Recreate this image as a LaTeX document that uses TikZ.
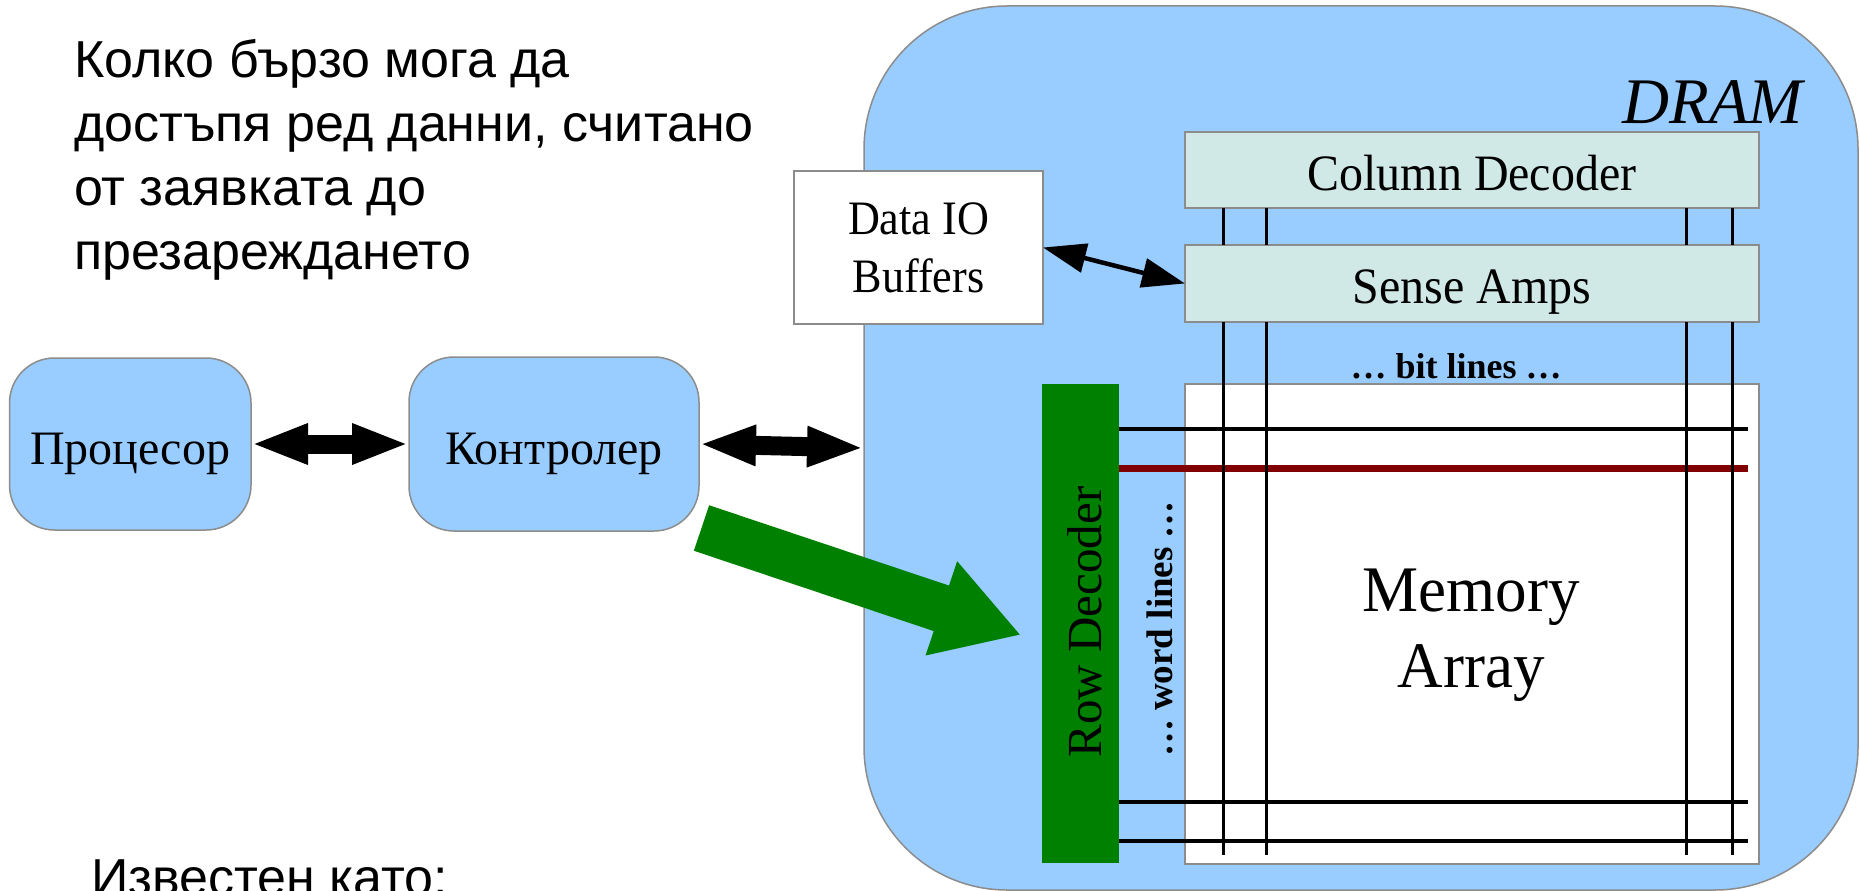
\documentclass[tikz,border=0pt]{standalone}
\usepackage{fontspec}
\usepackage{graphicx}
\setmainfont{Liberation Serif}
\newfontfamily\sansfont{Liberation Sans}
\usetikzlibrary{arrows.meta}
\definecolor{dramblue}{HTML}{99CCFF}
\definecolor{ampteal}{HTML}{D0E8E6}
\definecolor{decgreen}{HTML}{008000}
\definecolor{wordred}{HTML}{800000}
\definecolor{edgegray}{HTML}{8C8C8C}
\begin{document}
\begin{tikzpicture}[x=1pt,y=-1pt,
  box/.style={rectangle, draw=edgegray, line width=1.5pt, inner sep=0pt, outer sep=0pt},
  bluebox/.style={box, fill=dramblue, rounded corners=45pt, text height=50pt, text depth=10pt,
                  font=\fontsize{48}{55}\selectfont},
  whitebox/.style={box, fill=white},
  ampbox/.style={box, fill=ampteal},
  lbl/.style={inner sep=0pt, outer sep=0pt},
  para/.style={lbl, align=left, font=\sansfont\fontsize{52}{64}\selectfont},
  fatarrow/.style={line width=19pt, {Triangle[length=57pt,width=37pt]}-{Triangle[length=57pt,width=37pt]}},
  thinarrow/.style={line width=4.5pt, {Triangle[length=43pt,width=29pt]}-{Triangle[length=43pt,width=29pt]}},
  bitline/.style={line width=3pt, black},
  wordline/.style={line width=4pt, black},
]
\useasboundingbox (0,0) rectangle (1860,891);

% question text
\node[para, anchor=north west] (question) at (74,39)
  {Колко бързо мога да\\достъпя ред данни, считано\\от заявката до\\презареждането};
\node[para, anchor=base west] (known) at (91,895) {Известен като:};

% DRAM body
\node[box, fill=dramblue, rounded corners=143pt, minimum width=994pt, minimum height=884pt] (dram) at (1361,448) {};
\node[lbl, anchor=base east, font=\itshape\fontsize{65}{75}\selectfont] (dramlabel) at (1803,123) {DRAM};

% processor and controller
\node[bluebox, minimum width=241.5pt, minimum height=172pt] (cpu) at (130.25,444) {Процесор};
\node[bluebox, minimum width=290pt, minimum height=174pt] (ctrl) at (554,444) {Контролер};

% Data IO buffers
\node[whitebox, minimum width=249pt, minimum height=153pt, align=center,
      font=\fontsize{48}{58}\selectfont] (dataio) at (918.5,247.5) {\scalebox{0.92}[1]{Data IO}\\\scalebox{0.92}[1]{Buffers}};

% column decoder and sense amps
\node[ampbox, minimum width=574pt, minimum height=76pt, text height=50pt, text depth=10pt,
      font=\fontsize{51}{58}\selectfont] (coldec) at (1472,170) {\scalebox{0.94}[1]{Column Decoder}};
\node[ampbox, minimum width=574pt, minimum height=77pt, text height=50pt, text depth=10pt,
      font=\fontsize{51}{58}\selectfont] (senseamp) at (1472,283.5) {\scalebox{0.94}[1]{Sense Amps}};

% memory array and row decoder
\node[whitebox, minimum width=574pt, minimum height=480pt] (memarr) at (1472,624) {};
\node[rectangle, fill=decgreen, inner sep=0pt, minimum width=77pt, minimum height=479pt] (rowdec) at (1080.5,623.5) {};

% word lines
\coordinate (wl1) at (1748,429);
\coordinate (wl2) at (1748,468);
\coordinate (wl3) at (1748,802);
\coordinate (wl4) at (1748,841);
\draw[wordline] (rowdec.east |- wl1) -- (wl1);
\draw[line width=7pt, wordred] (rowdec.east |- wl2) -- (wl2);
\draw[wordline] (rowdec.east |- wl3) -- (wl3);
\draw[wordline] (rowdec.east |- wl4) -- (wl4);

% bit lines
\foreach \bx [count=\i] in {1223,1266,1686,1732}{
  \coordinate (bl\i) at (\bx,855);
  \draw[bitline] (coldec.south -| bl\i) -- (senseamp.north -| bl\i);
  \draw[bitline] (senseamp.south -| bl\i) -- (bl\i);
}

% labels
\node[lbl, font=\bfseries\fontsize{36}{40}\selectfont, anchor=base] (bitlbl) at (1456,378) {… bit lines …};
\node[lbl, rotate=90, font=\fontsize{49}{55}\selectfont] (rowlbl) at (1085,622) {Row Decoder};
\node[lbl, rotate=90, font=\bfseries\fontsize{37}{40}\selectfont] (wordlbl) at (1160,629) {… word lines …};
\node[lbl, align=center, font=\fontsize{65}{76}\selectfont] (memlbl) at (1471,635) {\scalebox{0.97}[1]{Memory}\\\scalebox{0.97}[1]{Array}};

% connectors
\draw[fatarrow] (cpu.east) -- (ctrl.west);
\draw[fatarrow] (ctrl.east) -- (dram.west);
\draw[thinarrow] (dataio.east) -- (senseamp.west);
\coordinate (gtail) at (701.5,528);
\coordinate (gtip) at (1021,635);
\draw[decgreen, line width=48pt, -{Triangle[length=84pt,width=93pt]}] (gtail) -- (gtip);
\end{tikzpicture}
\end{document}
